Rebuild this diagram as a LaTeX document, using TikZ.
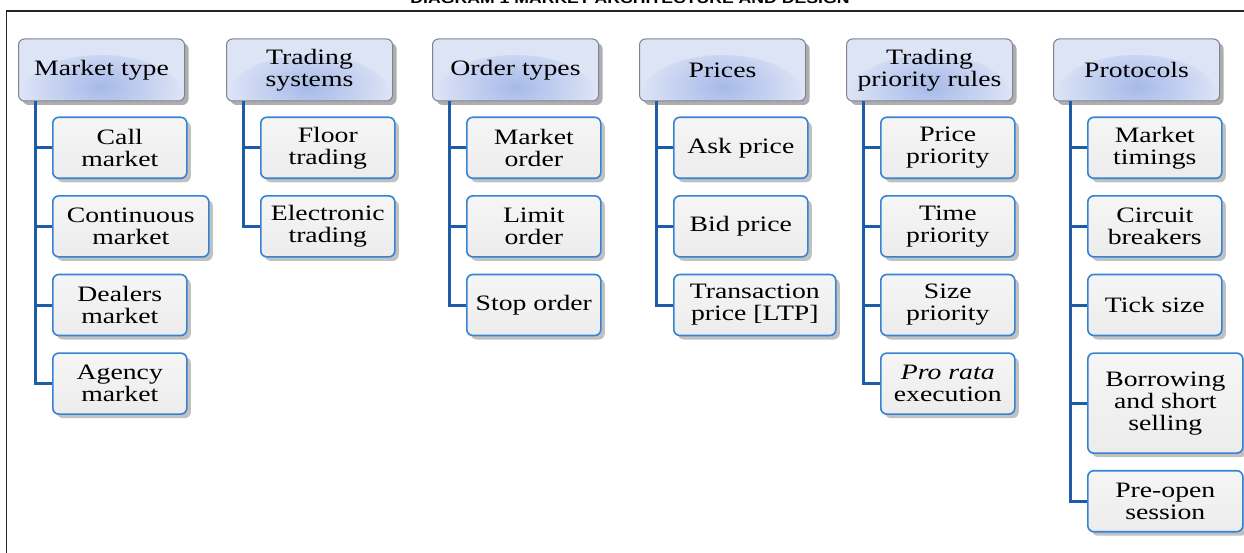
\documentclass[tikz,border=0pt]{standalone}
\usepackage{fontspec}
\setmainfont{Liberation Serif}[FakeStretch=1.26]
\newfontfamily\titlefont{Liberation Sans}[FakeStretch=1.26]
\usetikzlibrary{positioning,shadows,calc}
\definecolor{headfill}{HTML}{DDE4F6}
\definecolor{headglow}{HTML}{A6B9E8}
\definecolor{headline}{HTML}{7E838F}
\definecolor{itemfill}{HTML}{ECECEC}
\definecolor{itemline}{HTML}{3584D4}
\definecolor{connline}{HTML}{1D5DA8}
\tikzset{
  head/.style={draw=headline, line width=1pt, rounded corners=6pt, fill=headfill,
               minimum width=166pt, minimum height=62pt, align=center, inner sep=3pt,
               font=\fontsize{22}{22}\selectfont,
               drop shadow={shadow xshift=4pt, shadow yshift=-4pt, opacity=0.45, fill=black!70},
               path picture={\shade[inner color=headglow, outer color=headfill]
                 ([yshift=6pt]path picture bounding box.south) ellipse (80pt and 40pt);}},
  item/.style={draw=itemline, line width=1.6pt, rounded corners=6pt,
               top color=itemfill!50, bottom color=itemfill,
               minimum width=134pt, minimum height=61pt, align=center, inner sep=5pt,
               font=\fontsize{22}{22}\selectfont,
               drop shadow={shadow xshift=4pt, shadow yshift=-4pt, opacity=0.35, fill=black!70}},
  conn/.style={draw=connline, line width=3pt},
  frame/.style={draw=black!85, line width=1.3pt}
}
\begin{document}
\begin{tikzpicture}[x=1pt, y=-1pt]
  \useasboundingbox (0,0) rectangle (1244,553);
  \draw[frame] (6.5,11) rectangle (1280,590);
  \node[font=\titlefont\bfseries\fontsize{14}{14}\selectfont, anchor=base] (title) at (630,4)
    {DIAGRAM 1 MARKET ARCHITECTURE AND DESIGN};

  % column heads
  \node[head, anchor=north west] (hmkt) at (18,38.5)   {Market type};
  \node[head, anchor=north west] (hsys) at (226,38.5)  {Trading\\systems};
  \node[head, anchor=north west] (hord) at (432,38.5)  {Order types};
  \node[head, anchor=north west] (hprc) at (639,38.5)  {Prices};
  \node[head, anchor=north west] (hpri) at (846,38.5)  {Trading\\priority rules};
  \node[head, anchor=north west] (hpro) at (1053,38.5) {Protocols};

  % market type
  \node[item, below right=15pt and 34pt of hmkt.south west] (mkt1) {Call\\market};
  \node[item, below=16pt of mkt1.south west, anchor=north west, minimum width=156pt] (mkt2) {Continuous\\market};
  \node[item, below=16pt of mkt2.south west, anchor=north west] (mkt3) {Dealers\\market};
  \node[item, below=16pt of mkt3.south west, anchor=north west] (mkt4) {Agency\\market};

  % trading systems
  \node[item, below right=15pt and 34pt of hsys.south west] (sys1) {Floor\\trading};
  \node[item, below=16pt of sys1.south west, anchor=north west] (sys2) {Electronic\\trading};

  % order types
  \node[item, below right=15pt and 34pt of hord.south west] (ord1) {Market\\order};
  \node[item, below=16pt of ord1.south west, anchor=north west] (ord2) {Limit\\order};
  \node[item, below=16pt of ord2.south west, anchor=north west] (ord3) {Stop order};

  % prices
  \node[item, below right=15pt and 34pt of hprc.south west] (prc1) {Ask price};
  \node[item, below=16pt of prc1.south west, anchor=north west] (prc2) {Bid price};
  \node[item, below=16pt of prc2.south west, anchor=north west, minimum width=162pt] (prc3) {Transaction\\price [LTP]};

  % priority rules
  \node[item, below right=15pt and 34pt of hpri.south west] (pri1) {Price\\priority};
  \node[item, below=16pt of pri1.south west, anchor=north west] (pri2) {Time\\priority};
  \node[item, below=16pt of pri2.south west, anchor=north west] (pri3) {Size\\priority};
  \node[item, below=16pt of pri3.south west, anchor=north west] (pri4) {\textit{Pro rata}\\execution};

  % protocols
  \node[item, below right=15pt and 34pt of hpro.south west] (pro1) {Market\\timings};
  \node[item, below=16pt of pro1.south west, anchor=north west] (pro2) {Circuit\\breakers};
  \node[item, below=16pt of pro2.south west, anchor=north west] (pro3) {Tick size};
  \node[item, below=16pt of pro3.south west, anchor=north west, minimum width=155pt, minimum height=100pt] (pro4) {Borrowing\\and short\\selling};
  \node[item, below=16pt of pro4.south west, anchor=north west, minimum width=155pt] (pro5) {Pre-open\\session};

  % tree lines
  \foreach \h/\last/\others in {hmkt/mkt4/{mkt1,mkt2,mkt3}, hsys/sys2/{sys1},
      hord/ord3/{ord1,ord2}, hprc/prc3/{prc1,prc2}, hpri/pri4/{pri1,pri2,pri3},
      hpro/pro5/{pro1,pro2,pro3,pro4}} {
    \draw[conn] ($(\h.south west)+(17,0)$) |- (\last.west);
    \foreach \c in \others {\draw[conn] (\c.west) -- ++(-17,0);}
  }
\end{tikzpicture}
\end{document}
